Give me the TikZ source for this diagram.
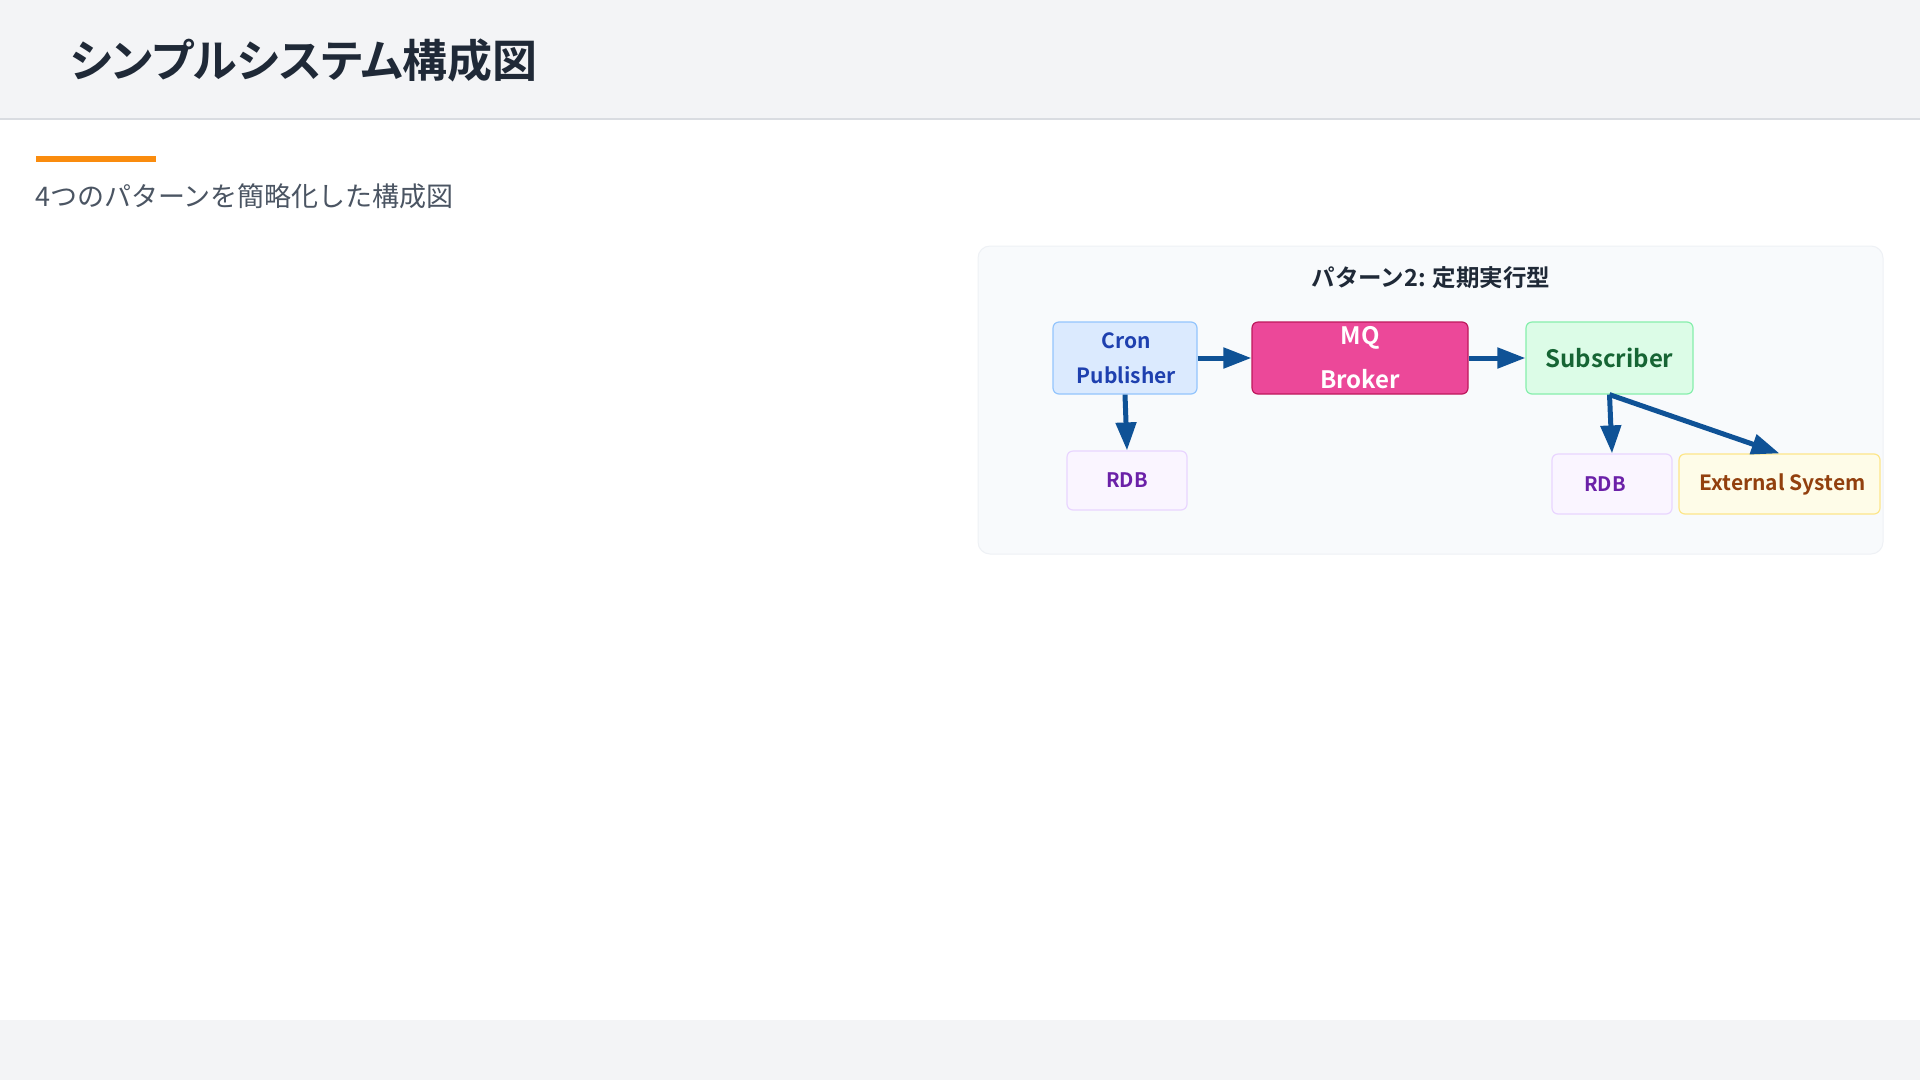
\documentclass[tikz,border=0pt]{standalone}
\usepackage{fontspec}
\setmainfont{Noto Sans CJK JP}[BoldFont={Noto Sans CJK JP Bold}]
\newfontfamily\titlefont{Noto Sans CJK JP Bold}[RawFeature=+palt]
\usetikzlibrary{arrows.meta}
\definecolor{hdrbg}{HTML}{F3F4F6}
\definecolor{hdrline}{HTML}{D9DCE1}
\definecolor{titlecol}{HTML}{1F2937}
\definecolor{subcol}{HTML}{4B5563}
\definecolor{orangebar}{HTML}{FA8C0E}
\definecolor{panelbg}{HTML}{F8FAFC}
\definecolor{panelline}{HTML}{EEF1F5}
\definecolor{arrowcol}{HTML}{0F5296}
\definecolor{cronfill}{HTML}{DBEAFE}
\definecolor{crondraw}{HTML}{93C5FD}
\definecolor{crontext}{HTML}{1E40AF}
\definecolor{mqfill}{HTML}{EC4899}
\definecolor{mqdraw}{HTML}{BE185D}
\definecolor{subfill}{HTML}{DCFCE7}
\definecolor{subdraw}{HTML}{86EFAC}
\definecolor{subtext}{HTML}{166534}
\definecolor{rdbfill}{HTML}{FAF5FF}
\definecolor{rdbdraw}{HTML}{E9D5FF}
\definecolor{rdbtext}{HTML}{6B21A8}
\definecolor{extfill}{HTML}{FEFCE8}
\definecolor{extdraw}{HTML}{FDE68A}
\definecolor{exttext}{HTML}{92400E}
\tikzset{
  box/.style={rounded corners=6pt, line width=1.2pt, align=center, inner sep=0pt, font=\bfseries},
  flow/.style={draw=arrowcol, line width=5pt, -{Triangle[length=28pt,width=20pt]}},
}
\begin{document}
\begin{tikzpicture}[x=1pt,y=-1pt]
\useasboundingbox (0,0) rectangle (1920,1080);
\fill[white] (0,0) rectangle (1920,1080);
% header
\fill[hdrbg] (0,0) rectangle (1920,119);
\draw[hdrline, line width=1.5pt] (0,119) -- (1920,119);
\node[anchor=west, text=titlecol, inner sep=0pt, font=\titlefont\fontsize{45}{52}\selectfont] (title) at (70,60) {シンプルシステム構成図};
% footer
\fill[hdrbg] (0,1020) rectangle (1920,1080);
% accent + subtitle
\fill[orangebar] (36,156) rectangle (156,162);
\node[anchor=west, text=subcol, inner sep=0pt, font=\fontsize{27}{32}\selectfont] (subtitle) at (35,196) {4つのパターンを簡略化した構成図};
% panel
\filldraw[fill=panelbg, draw=panelline, line width=1pt, rounded corners=12pt] (978,246) rectangle (1883,554);
\node[text=titlecol, inner sep=0pt, font=\bfseries\fontsize{23.5}{28}\selectfont] (ptitle) at (1431,278) {パターン2: 定期実行型};
% nodes
\node[box, fill=cronfill, draw=crondraw, text=crontext, minimum width=144pt, minimum height=72pt, font=\bfseries\fontsize{21}{35}\selectfont] (cron) at (1125,358) {\kern3pt Cron\\\kern3pt Publisher};
\node[box, fill=mqfill, draw=mqdraw, text=white, minimum width=216pt, minimum height=72pt, font=\bfseries\fontsize{24}{44}\selectfont] (mq) at (1360,358) {\raisebox{-2pt}{MQ}\\\raisebox{-2pt}{Broker}};
\node[box, fill=subfill, draw=subdraw, text=subtext, minimum width=167pt, minimum height=72pt, font=\bfseries\fontsize{24}{28}\selectfont] (sub) at (1609.5,358) {Subscriber};
\node[box, fill=rdbfill, draw=rdbdraw, text=rdbtext, minimum width=120pt, minimum height=59pt, font=\bfseries\fontsize{20}{24}\selectfont] (rdb1) at (1127,480.5) {RDB};
\node[box, fill=rdbfill, draw=rdbdraw, text=rdbtext, minimum width=120pt, minimum height=60pt, font=\bfseries\fontsize{20}{24}\selectfont] (rdb2) at (1612,484) {RDB\kern14pt};
\node[box, fill=extfill, draw=extdraw, text=exttext, minimum width=201pt, minimum height=60pt, font=\bfseries\fontsize{21}{25}\selectfont] (ext) at (1779.5,484) {\raisebox{-2pt}{\kern6pt External System}};
% connectors
\draw[flow] (cron.east) -- (mq.west);
\draw[flow] (mq.east) -- (sub.west);
\draw[flow] (cron.south) -- (rdb1.north);
\draw[flow] (sub.south) -- (rdb2.north);
\draw[flow] (sub.south) -- (ext.north);
\end{tikzpicture}
\end{document}
